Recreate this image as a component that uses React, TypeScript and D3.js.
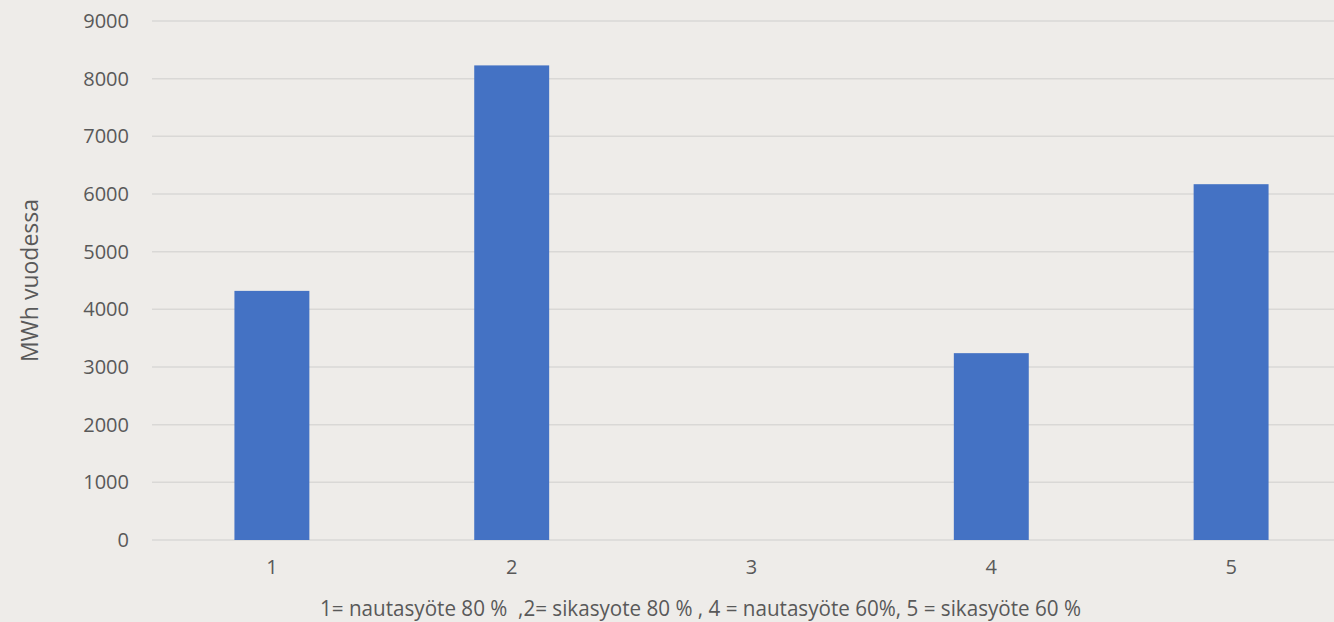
import { useEffect, useRef } from 'react'
import * as d3 from 'd3'

const CATEGORIES = ['1', '2', '3', '4', '5']
const VALUES = [4320, 8230, 0, 3240, 6170]
const Y_TICKS = [0, 1000, 2000, 3000, 4000, 5000, 6000, 7000, 8000, 9000]
const Y_LABEL = 'MWh vuodessa'
const X_LABEL = '1= nautasyöte 80 %  ,2= sikasyote 80 % , 4 = nautasyöte 60%, 5 = sikasyöte 60 %'

const WIDTH = 1334
const HEIGHT = 622

export default function App() {
  const svgRef = useRef<SVGSVGElement | null>(null)

  useEffect(() => {
    document.body.style.margin = '0'
    const svg = svgRef.current
    if (!svg) return

    const margin = { top: 21, right: -17, bottom: 82, left: 152 }
    const x = d3
      .scaleBand()
      .domain(CATEGORIES)
      .range([margin.left, WIDTH - margin.right])
      .paddingInner(0.6875)
      .paddingOuter(0.34375)
    const y = d3
      .scaleLinear()
      .domain([0, 9000])
      .range([HEIGHT - margin.bottom, margin.top])

    const root = d3.select(svg)
    root.selectAll('*').remove()

    root.append('rect').attr('width', WIDTH).attr('height', HEIGHT).attr('fill', '#eeece9')

    root
      .append('g')
      .selectAll('line')
      .data(Y_TICKS)
      .join('line')
      .attr('x1', margin.left)
      .attr('x2', WIDTH)
      .attr('y1', (d) => y(d))
      .attr('y2', (d) => y(d))
      .attr('stroke', '#d9d8d6')
      .attr('stroke-width', 1.5)

    root
      .append('g')
      .selectAll('text')
      .data(Y_TICKS)
      .join('text')
      .attr('x', 129)
      .attr('y', (d) => y(d))
      .attr('dy', '0.35em')
      .attr('text-anchor', 'end')
      .attr('font-family', 'Open Sans, sans-serif')
      .attr('font-size', 20)
      .attr('fill', '#595959')
      .text((d) => String(d))

    const xAxis = d3.axisBottom(x).tickSize(0).tickPadding(0)
    const gx = root.append('g').attr('transform', `translate(0,${y(0) + 20})`).call(xAxis)
    gx.select('.domain').remove()
    gx.selectAll('text')
      .attr('dy', '0.71em')
      .attr('font-family', 'Open Sans, sans-serif')
      .attr('font-size', 20)
      .attr('fill', '#595959')

    root
      .append('g')
      .selectAll('rect')
      .data(VALUES)
      .join('rect')
      .attr('x', (_, i) => x(CATEGORIES[i]) ?? 0)
      .attr('width', x.bandwidth())
      .attr('y', (d) => y(d))
      .attr('height', (d) => y(0) - y(d))
      .attr('fill', '#4472c4')

    root
      .append('text')
      .attr('transform', `translate(38,${(y(0) + y(9000)) / 2}) rotate(-90)`)
      .attr('text-anchor', 'middle')
      .attr('font-family', 'Open Sans, sans-serif')
      .attr('font-size', 23)
      .attr('fill', '#595959')
      .text(Y_LABEL)

    // bottom title sits close to the window edge, as in the reference
    root
      .append('text')
      .attr('x', 320)
      .attr('y', 616)
      .attr('textLength', 761)
      .attr('lengthAdjust', 'spacingAndGlyphs')
      .attr('font-family', 'Open Sans, sans-serif')
      .attr('font-size', 22)
      .attr('fill', '#595959')
      .style('white-space', 'pre')
      .text(X_LABEL)
  }, [])

  return (
    <svg
      ref={svgRef}
      width={WIDTH}
      height={HEIGHT}
      style={{ display: 'block' }}
      role="img"
      aria-label="MWh vuodessa bar chart"
    />
  )
}
